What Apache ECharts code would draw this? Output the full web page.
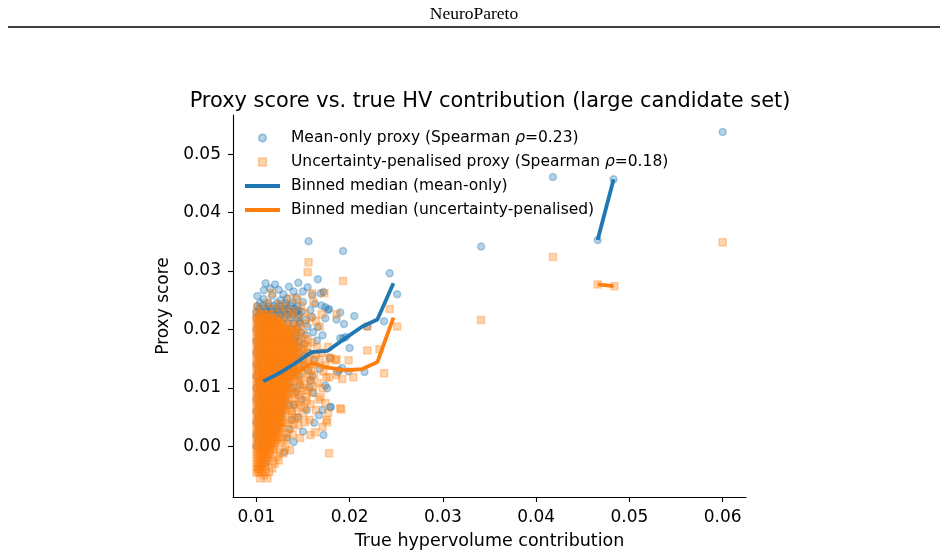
<!DOCTYPE html>
<html>
<head>
<meta charset="utf-8">
<title>Proxy score vs. true HV contribution</title>
<script src="https://cdn.jsdelivr.net/npm/echarts@6/dist/echarts.min.js"></script>
<style>
  html, body { margin: 0; padding: 0; background: #fff; }
  #chart { width: 948px; height: 557px; }
</style>
</head>
<body>
<div id="chart"></div>
<script>
// binned medians, null = empty bin (gap in the line)
const binX        = [0.01075, 0.01247, 0.01418, 0.0159, 0.01762, 0.01955, 0.02137, 0.02298, 0.0247, null, 0.04659, 0.04831];
const medianMean  = [0.0111, 0.0125, 0.0142, 0.0161, 0.0163, 0.0185, 0.0205, 0.0217, 0.0279, null, 0.0353, 0.0457];
const medianPenal = [0.0092, 0.0108, 0.0125, 0.0142, 0.0135, 0.0130, 0.0132, 0.0144, 0.0220, null, 0.0277, 0.0274];

// dense part of the cloud, one row per proxy level: [y, x, x, ...]
const meanRows = [
  [0.0245, 0.0104,0.0113,0.0122,0.0131],
  [0.0240, 0.0101,0.0107,0.0113,0.0119,0.0125,0.0131,0.0137,0.0144],
  [0.0235, 0.0103,0.0110,0.0116,0.0122,0.0128,0.0134,0.0141],
  [0.0230, 0.0100,0.0106,0.0112,0.0118,0.0124,0.0130,0.0136,0.0143,0.0149],
  [0.0225, 0.0103,0.0109,0.0115,0.0121,0.0127,0.0133,0.0139,0.0146],
  [0.0220, 0.0100,0.0106,0.0112,0.0118,0.0124,0.0130,0.0137,0.0145],
  [0.0210, 0.0102,0.0109,0.0115,0.0121,0.0128,0.0134,0.0140,0.0147],
  [0.0200, 0.0100,0.0106,0.0113,0.0119,0.0126,0.0132,0.0139,0.0144],
  [0.0190, 0.0103,0.0109,0.0116,0.0122,0.0129,0.0135,0.0142],
  [0.0180, 0.0100,0.0107,0.0113,0.0120,0.0126,0.0133,0.0140,0.0146],
  [0.0170, 0.0102,0.0109,0.0115,0.0121,0.0128,0.0135,0.0141],
  [0.0160, 0.0100,0.0106,0.0112,0.0119,0.0125,0.0132,0.0138,0.0145],
  [0.0150, 0.0103,0.0109,0.0116,0.0122,0.0129,0.0136,0.0142],
  [0.0140, 0.0100,0.0107,0.0113,0.0120,0.0126,0.0133,0.0139],
  [0.0130, 0.0102,0.0108,0.0115,0.0121,0.0128,0.0134,0.0141],
  [0.0120, 0.0100,0.0106,0.0112,0.0119,0.0125,0.0132,0.0138],
  [0.0110, 0.0103,0.0109,0.0116,0.0122,0.0129,0.0135],
  [0.0100, 0.0100,0.0107,0.0113,0.0120,0.0126,0.0132,0.0139],
  [0.0090, 0.0102,0.0108,0.0115,0.0121,0.0128,0.0134],
  [0.0080, 0.0100,0.0106,0.0112,0.0119,0.0125,0.0131],
  [0.0070, 0.0103,0.0109,0.0116,0.0122,0.0128,0.0135],
  [0.0060, 0.0100,0.0107,0.0113,0.0120,0.0126],
  [0.0050, 0.0102,0.0108,0.0115,0.0121,0.0127],
  [0.0040, 0.0100,0.0106,0.0112,0.0118,0.0124],
  [0.0030, 0.0103,0.0109,0.0115,0.0121],
  [0.0020, 0.0100,0.0107,0.0113,0.0119],
  [0.0010, 0.0102,0.0108,0.0114],
  [0.0000, 0.0100,0.0106,0.0112]
];

// single mean-only points around the cloud: [x, y]
const meanPoints = [
  [0.0110,0.0279],[0.0120,0.0277],[0.0108,0.0267],[0.0140,0.0265],[0.0150,0.0265],[0.0155,0.0272],
  [0.0166,0.0286],[0.0156,0.0351],[0.0172,0.0264],[0.0160,0.0259],[0.0170,0.0241],[0.0174,0.0238],
  [0.0178,0.0235],[0.0190,0.0229],[0.0186,0.0217],[0.0196,0.0187],[0.0126,0.0250],[0.0133,0.0253],
  [0.0139,0.0245],[0.0117,0.0258],[0.0108,0.0252],[0.0145,0.0233],[0.0150,0.0247],[0.0129,0.0260],
  [0.0160,0.0221],[0.0174,0.0219],[0.0153,0.0216],[0.0166,0.0204],[0.0101,0.0257],[0.0169,0.0262],
  [0.0177,0.0233],[0.0194,0.0209],[0.0205,0.0223],[0.0219,0.0205],[0.0237,0.0214],[0.0193,0.0185],
  [0.0200,0.0168],[0.0189,0.0130],[0.0199,0.0128],[0.0216,0.0127],[0.0176,0.0099],[0.0179,0.0067],
  [0.0172,0.0019],[0.0167,0.0053],[0.0140,0.0007],[0.0136,0.0029],[0.0130,-0.0010],[0.0110,-0.0029],
  [0.0193,0.0334],[0.0243,0.0296],[0.0251,0.0260],[0.0341,0.0342],[0.0418,0.0461],[0.0466,0.0353],
  [0.0483,0.0457],[0.0600,0.0538],[0.0171,0.0190],[0.0165,0.0181],[0.0174,0.0104],[0.0180,0.0067],
  [0.0171,0.0062],[0.0158,0.0113],[0.0161,0.0091],[0.0154,0.0062],[0.0187,0.0127],[0.0179,0.0151],
  [0.0192,0.0134],[0.0190,0.0185],[0.0148,0.0195],[0.0152,0.0175],[0.0156,0.0160],[0.0162,0.0148],
  [0.0168,0.0132],[0.0150,0.0140],[0.0146,0.0120],[0.0157,0.0100],[0.0149,0.0080],[0.0145,0.0050],
  [0.0162,0.0040],[0.0150,0.0025],[0.0155,0.0205],[0.0161,0.0195],[0.0146,0.0213],[0.0158,0.0233],
  [0.0163,0.0244],[0.0143,0.0255],[0.0115,0.0270],[0.0124,0.0268],[0.0135,0.0273],[0.0145,0.0280],
  [0.0142,0.0185],[0.0146,0.0170],[0.0144,0.0150],[0.0141,0.0128],[0.0147,0.0105],[0.0143,0.0092],
  [0.0140,0.0070],[0.0138,0.0045],[0.0133,0.0015],[0.0153,0.0190],[0.0151,0.0155],[0.0155,0.0130],
  [0.0160,0.0120]
];

const penalRows = [
  [0.0225, 0.0100,0.0103,0.0106,0.0109,0.0112,0.0115],
  [0.0220, 0.0101,0.0104,0.0107,0.0110,0.0113,0.0116,0.0119,0.0122],
  [0.0215, 0.0102,0.0105,0.0108,0.0111,0.0114,0.0117,0.0120,0.0123,0.0126],
  [0.0210, 0.0100,0.0103,0.0106,0.0109,0.0112,0.0115,0.0118,0.0121,0.0124,0.0127,0.0130],
  [0.0205, 0.0101,0.0104,0.0107,0.0110,0.0113,0.0116,0.0119,0.0122,0.0125,0.0128,0.0131],
  [0.0200, 0.0102,0.0105,0.0108,0.0111,0.0114,0.0117,0.0120,0.0123,0.0126,0.0129,0.0132,0.0135],
  [0.0195, 0.0100,0.0103,0.0106,0.0109,0.0112,0.0115,0.0118,0.0121,0.0124,0.0127,0.0130,0.0133,0.0136],
  [0.0190, 0.0101,0.0104,0.0107,0.0110,0.0113,0.0116,0.0119,0.0122,0.0125,0.0128,0.0131,0.0134,0.0137],
  [0.0185, 0.0102,0.0105,0.0108,0.0111,0.0114,0.0117,0.0120,0.0123,0.0126,0.0129,0.0132,0.0135,0.0138],
  [0.0180, 0.0100,0.0103,0.0106,0.0109,0.0112,0.0115,0.0118,0.0121,0.0124,0.0127,0.0130,0.0133,0.0136,0.0140],
  [0.0175, 0.0101,0.0104,0.0107,0.0110,0.0113,0.0116,0.0119,0.0122,0.0125,0.0128,0.0131,0.0134,0.0137,0.0141],
  [0.0170, 0.0102,0.0105,0.0108,0.0111,0.0114,0.0117,0.0120,0.0123,0.0126,0.0129,0.0132,0.0135,0.0138],
  [0.0165, 0.0100,0.0103,0.0106,0.0109,0.0112,0.0115,0.0118,0.0121,0.0124,0.0127,0.0130,0.0133,0.0136,0.0139,0.0142],
  [0.0160, 0.0101,0.0104,0.0107,0.0110,0.0113,0.0116,0.0119,0.0122,0.0125,0.0128,0.0131,0.0134,0.0137,0.0140],
  [0.0155, 0.0102,0.0105,0.0108,0.0111,0.0114,0.0117,0.0120,0.0123,0.0126,0.0129,0.0132,0.0135,0.0138,0.0141],
  [0.0150, 0.0100,0.0103,0.0106,0.0109,0.0112,0.0115,0.0118,0.0121,0.0124,0.0127,0.0130,0.0133,0.0136,0.0139],
  [0.0145, 0.0101,0.0104,0.0107,0.0110,0.0113,0.0116,0.0119,0.0122,0.0125,0.0128,0.0131,0.0134,0.0137,0.0141],
  [0.0140, 0.0102,0.0105,0.0108,0.0111,0.0114,0.0117,0.0120,0.0123,0.0126,0.0129,0.0132,0.0135,0.0138],
  [0.0135, 0.0100,0.0103,0.0106,0.0109,0.0112,0.0115,0.0118,0.0121,0.0124,0.0127,0.0130,0.0133,0.0136,0.0139,0.0142],
  [0.0130, 0.0101,0.0104,0.0107,0.0110,0.0113,0.0116,0.0119,0.0122,0.0125,0.0128,0.0131,0.0134,0.0137,0.0140],
  [0.0125, 0.0102,0.0105,0.0108,0.0111,0.0114,0.0117,0.0120,0.0123,0.0126,0.0129,0.0132,0.0135,0.0138],
  [0.0120, 0.0100,0.0103,0.0106,0.0109,0.0112,0.0115,0.0118,0.0121,0.0124,0.0127,0.0130,0.0133,0.0136,0.0139],
  [0.0115, 0.0101,0.0104,0.0107,0.0110,0.0113,0.0116,0.0119,0.0122,0.0125,0.0128,0.0131,0.0135],
  [0.0110, 0.0102,0.0105,0.0108,0.0111,0.0114,0.0117,0.0120,0.0123,0.0126,0.0129,0.0132,0.0136],
  [0.0105, 0.0100,0.0103,0.0106,0.0109,0.0112,0.0115,0.0118,0.0121,0.0124,0.0127,0.0130,0.0133],
  [0.0100, 0.0101,0.0104,0.0107,0.0110,0.0113,0.0116,0.0119,0.0122,0.0125,0.0128,0.0131,0.0135],
  [0.0095, 0.0102,0.0105,0.0108,0.0111,0.0114,0.0117,0.0120,0.0123,0.0126,0.0129,0.0132],
  [0.0090, 0.0100,0.0103,0.0106,0.0109,0.0112,0.0115,0.0118,0.0121,0.0124,0.0127,0.0130,0.0133],
  [0.0085, 0.0101,0.0104,0.0107,0.0110,0.0113,0.0116,0.0119,0.0122,0.0125,0.0128,0.0131],
  [0.0080, 0.0102,0.0105,0.0108,0.0111,0.0114,0.0117,0.0120,0.0123,0.0126,0.0129,0.0132],
  [0.0075, 0.0100,0.0103,0.0106,0.0109,0.0112,0.0115,0.0118,0.0121,0.0124,0.0127,0.0130],
  [0.0070, 0.0101,0.0104,0.0107,0.0110,0.0113,0.0116,0.0119,0.0122,0.0125,0.0128,0.0131],
  [0.0065, 0.0102,0.0105,0.0108,0.0111,0.0114,0.0117,0.0120,0.0123,0.0126,0.0129],
  [0.0060, 0.0100,0.0103,0.0106,0.0109,0.0112,0.0115,0.0118,0.0121,0.0124,0.0127,0.0130],
  [0.0055, 0.0101,0.0104,0.0107,0.0110,0.0113,0.0116,0.0119,0.0122,0.0125,0.0128],
  [0.0050, 0.0102,0.0105,0.0108,0.0111,0.0114,0.0117,0.0120,0.0123,0.0126],
  [0.0045, 0.0100,0.0103,0.0106,0.0109,0.0112,0.0115,0.0118,0.0121,0.0124,0.0127],
  [0.0040, 0.0101,0.0104,0.0107,0.0110,0.0113,0.0116,0.0119,0.0122,0.0125,0.0128],
  [0.0035, 0.0102,0.0105,0.0108,0.0111,0.0114,0.0117,0.0120,0.0123,0.0126],
  [0.0030, 0.0100,0.0103,0.0106,0.0109,0.0112,0.0115,0.0118,0.0121,0.0124,0.0127],
  [0.0025, 0.0101,0.0104,0.0107,0.0110,0.0113,0.0116,0.0119,0.0122,0.0125],
  [0.0020, 0.0102,0.0105,0.0108,0.0111,0.0114,0.0117,0.0120,0.0123],
  [0.0015, 0.0100,0.0103,0.0106,0.0109,0.0112,0.0115,0.0118,0.0121,0.0124],
  [0.0010, 0.0101,0.0104,0.0107,0.0110,0.0113,0.0116,0.0119,0.0122],
  [0.0005, 0.0102,0.0105,0.0108,0.0111,0.0114,0.0117,0.0120],
  [0.0000, 0.0100,0.0103,0.0106,0.0109,0.0112,0.0115,0.0118],
  [-0.0005, 0.0101,0.0104,0.0107,0.0110,0.0113,0.0116,0.0119],
  [-0.0010, 0.0102,0.0105,0.0108,0.0111,0.0114],
  [-0.0015, 0.0100,0.0103,0.0106,0.0109,0.0112,0.0115],
  [-0.0020, 0.0101,0.0104,0.0107,0.0110,0.0113],
  [-0.0025, 0.0102,0.0105,0.0108,0.0111],
  [-0.0030, 0.0100,0.0103,0.0106,0.0109],
  [-0.0035, 0.0101,0.0104,0.0107,0.0110],
  [-0.0040, 0.0102,0.0105],
  [-0.0045, 0.0100,0.0103,0.0106]
];

const penalPoints = [
  [0.0101,0.0238],[0.0106,0.0232],[0.0112,0.0245],[0.0117,0.0262],[0.0119,0.0236],[0.0125,0.0243],
  [0.0128,0.0229],[0.0131,0.0238],[0.0136,0.0253],[0.0134,0.0222],[0.0139,0.0226],[0.0140,0.0232],
  [0.0144,0.0252],[0.0148,0.0240],[0.0152,0.0228],[0.0155,0.0298],[0.0156,0.0315],[0.0158,0.0220],
  [0.0160,0.0262],[0.0161,0.0247],[0.0164,0.0214],[0.0145,0.0218],[0.0168,0.0205],[0.0170,0.0226],
  [0.0173,0.0262],[0.0186,0.0226],[0.0193,0.0283],
  [0.0138,0.0208],[0.0142,0.0200],[0.0140,0.0195],[0.0147,0.0204],[0.0145,0.0188],[0.0150,0.0192],
  [0.0153,0.0210],[0.0155,0.0183],[0.0160,0.0178],[0.0142,0.0175],[0.0148,0.0168],[0.0153,0.0160],
  [0.0158,0.0152],[0.0165,0.0170],[0.0170,0.0160],[0.0141,0.0160],[0.0146,0.0150],[0.0151,0.0142],
  [0.0162,0.0140],[0.0168,0.0148],[0.0174,0.0138],[0.0140,0.0140],[0.0143,0.0130],[0.0149,0.0125],
  [0.0156,0.0132],[0.0162,0.0122],[0.0172,0.0128],[0.0186,0.0149],[0.0199,0.0147],[0.0192,0.0115],
  [0.0204,0.0118],[0.0219,0.0164],[0.0232,0.0166],[0.0237,0.0125],[0.0140,0.0118],[0.0146,0.0110],
  [0.0152,0.0105],[0.0158,0.0112],[0.0166,0.0108],[0.0175,0.0118],[0.0180,0.0150],[0.0177,0.0170],
  [0.0178,0.0118],[0.0171,0.0099],[0.0169,0.0084],[0.0175,0.0045],[0.0186,0.0122],[0.0178,0.0152],
  [0.0185,0.0147],[0.0174,0.0074],[0.0177,0.0057],[0.0191,0.0063],[0.0190,0.0065],
  [0.0136,0.0098],[0.0141,0.0090],[0.0147,0.0094],[0.0153,0.0085],[0.0160,0.0092],[0.0167,0.0080],
  [0.0135,0.0080],[0.0140,0.0072],[0.0146,0.0076],[0.0152,0.0066],[0.0158,0.0072],[0.0164,0.0062],
  [0.0133,0.0062],[0.0138,0.0055],[0.0144,0.0048],[0.0150,0.0056],[0.0157,0.0045],[0.0163,0.0024],
  [0.0171,0.0033],[0.0176,0.0041],[0.0145,0.0036],[0.0152,0.0041],[0.0158,0.0019],[0.0147,0.0014],
  [0.0131,0.0040],[0.0135,0.0030],[0.0139,0.0020],[0.0132,0.0012],[0.0127,0.0005],[0.0136,-0.0007],
  [0.0124,-0.0024],[0.0178,-0.0012],[0.0129,-0.0012],[0.0120,-0.0030],[0.0117,-0.0038],[0.0114,-0.0044],
  [0.0104,-0.0055],[0.0112,-0.0055],[0.0102,-0.0039],[0.0108,-0.0050],[0.0110,-0.0045],
  [0.0141,0.0205],[0.0144,0.0196],[0.0148,0.0184],[0.0151,0.0176],[0.0144,0.0170],[0.0150,0.0165],
  [0.0155,0.0170],[0.0147,0.0158],[0.0143,0.0152],[0.0149,0.0147],[0.0155,0.0148],[0.0145,0.0140],
  [0.0152,0.0135],[0.0146,0.0132],[0.0142,0.0125],[0.0148,0.0118],[0.0144,0.0112],[0.0150,0.0100],
  [0.0143,0.0104],[0.0139,0.0095],[0.0145,0.0088],[0.0141,0.0082],[0.0148,0.0070],[0.0143,0.0066],
  [0.0138,0.0060],[0.0141,0.0050],[0.0136,0.0045],[0.0140,0.0038],[0.0133,0.0022],[0.0129,0.0015],
  [0.0131,-0.0002],[0.0125,-0.0010],[0.0122,-0.0017],[0.0118,-0.0025],[0.0159,0.0130],[0.0164,0.0156],
  [0.0157,0.0118],[0.0161,0.0102],[0.0155,0.0095],[0.0154,0.0078],
  [0.0466,0.0277],[0.0484,0.0274],[0.0600,0.0349],[0.0418,0.0324],[0.0341,0.0216],[0.0243,0.0235],
  [0.0251,0.0205],[0.0219,0.0205]
];

const xTicks = [0.01, 0.02, 0.03, 0.04, 0.05, 0.06];
const yTicks = [0.00, 0.01, 0.02, 0.03, 0.04, 0.05];

const BLUE = '#1f77b4';
const ORANGE = '#ff7f0e';
const FONT = 'DejaVu Sans';

const NAME_MEAN = 'Mean-only proxy (Spearman ρ=0.23)';
const NAME_PENAL = 'Uncertainty-penalised proxy (Spearman ρ=0.18)';
const NAME_MED_MEAN = 'Binned median (mean-only)';
const NAME_MED_PENAL = 'Binned median (uncertainty-penalised)';

function rowsToPoints(rows) {
  const out = [];
  rows.forEach(r => r.slice(1).forEach(x => out.push([x, r[0]])));
  return out;
}

const meanData = rowsToPoints(meanRows).concat(meanPoints);
const penalData = rowsToPoints(penalRows).concat(penalPoints);
const meanLine = binX.map((x, i) => [x, medianMean[i]]);
const penalLine = binX.map((x, i) => [x, medianPenal[i]]);

const chart = echarts.init(document.getElementById('chart'), null, { renderer: 'canvas' });

const axisCommon = {
  type: 'value',
  nameLocation: 'middle',
  nameTextStyle: { fontFamily: FONT, fontSize: 17.5, color: '#000' },
  axisLine: { show: true, onZero: false, lineStyle: { color: '#000', width: 1.1 } },
  axisTick: { show: true, length: 5, lineStyle: { color: '#000', width: 1.1 } },
  splitLine: { show: false }
};

const lineIcon = 'path://M0,0L35,0L35,3.8L0,3.8Z';

const option = {
  animation: false,
  backgroundColor: '#fff',
  title: {
    text: 'Proxy score vs. true HV contribution (large candidate set)',
    left: 485,
    top: 86,
    textAlign: 'center',
    textStyle: { fontFamily: FONT, fontSize: 20.9, fontWeight: 'normal', color: '#000' }
  },
  graphic: [
    {
      type: 'text', left: 'center', top: 5,
      style: { text: 'NeuroPareto', font: '17.5px "Liberation Serif"', fill: '#000' }
    },
    {
      type: 'line', shape: { x1: 8, y1: 27, x2: 940, y2: 27 },
      style: { stroke: '#000', lineWidth: 1.3 }
    }
  ],
  legend: {
    orient: 'vertical',
    left: 240,
    top: 124,
    itemWidth: 35,
    itemHeight: 7.5,
    itemGap: 6,
    selectedMode: false,
    data: [
      { name: NAME_MEAN, icon: 'circle' },
      { name: NAME_PENAL, icon: 'path://M0,0L10,0L10,10L0,10Z' },
      { name: NAME_MED_MEAN, icon: lineIcon },
      { name: NAME_MED_PENAL, icon: lineIcon }
    ],
    textStyle: {
      fontFamily: FONT, fontSize: 15.5, color: '#000', lineHeight: 18,
      padding: [0, 0, 0, 6],
      rich: { i: { fontFamily: FONT, fontSize: 15.5, fontStyle: 'italic', lineHeight: 18 } }
    },
    formatter: name => name.replace('ρ', '{i|ρ}')
  },
  grid: { left: 233, right: 202, top: 115, bottom: 60 },
  xAxis: Object.assign({}, axisCommon, {
    min: 0.0075,
    max: 0.0625,
    name: 'True hypervolume contribution',
    nameGap: 35,
    axisTick: Object.assign({}, axisCommon.axisTick, { customValues: xTicks }),
    axisLabel: {
      customValues: xTicks, margin: 12,
      fontFamily: FONT, fontSize: 17, color: '#000',
      formatter: v => v.toFixed(2)
    }
  }),
  yAxis: Object.assign({}, axisCommon, {
    min: -0.0087,
    max: 0.0567,
    name: 'Proxy score',
    nameGap: 51,
    nameTextStyle: { fontFamily: FONT, fontSize: 17, color: '#000' },
    axisTick: Object.assign({}, axisCommon.axisTick, { customValues: yTicks }),
    axisLabel: {
      customValues: yTicks, margin: 12,
      fontFamily: FONT, fontSize: 17, color: '#000',
      formatter: v => v.toFixed(2)
    }
  }),
  series: [
    {
      name: NAME_MEAN,
      type: 'scatter',
      symbol: 'circle',
      symbolSize: 7,
      data: meanData,
      itemStyle: { color: BLUE, borderColor: BLUE, borderWidth: 1.5, opacity: 0.33 },
      emphasis: { disabled: true }
    },
    {
      name: NAME_PENAL,
      type: 'scatter',
      symbol: 'rect',
      symbolSize: 7,
      data: penalData,
      itemStyle: { color: ORANGE, borderColor: ORANGE, borderWidth: 1.5, opacity: 0.33 },
      emphasis: { disabled: true }
    },
    {
      name: NAME_MED_MEAN,
      type: 'line',
      symbol: 'none',
      connectNulls: false,
      data: meanLine,
      lineStyle: { color: BLUE, width: 3.8 },
      itemStyle: { color: BLUE },
      emphasis: { disabled: true }
    },
    {
      name: NAME_MED_PENAL,
      type: 'line',
      symbol: 'none',
      connectNulls: false,
      data: penalLine,
      lineStyle: { color: ORANGE, width: 3.8 },
      itemStyle: { color: ORANGE },
      emphasis: { disabled: true }
    }
  ]
};

chart.setOption(option);
window.addEventListener('resize', () => chart.resize());
</script>
</body>
</html>
